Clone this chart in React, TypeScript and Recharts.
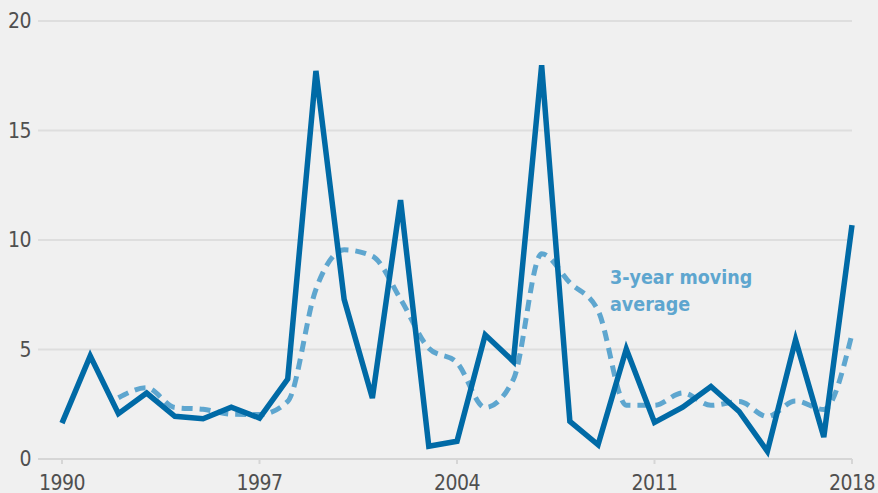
import { LineChart, Line, XAxis, YAxis, CartesianGrid } from "recharts";

// Yearly values.
const YEARS = [
  1990, 1991, 1992, 1993, 1994, 1995, 1996, 1997, 1998, 1999, 2000, 2001, 2002, 2003, 2004,
  2005, 2006, 2007, 2008, 2009, 2010, 2011, 2012, 2013, 2014, 2015, 2016, 2017, 2018,
];
const ANNUAL = [
  1.64, 4.71, 2.07, 3.01, 1.95, 1.84, 2.37, 1.87, 3.65, 17.72, 7.29, 2.78, 11.82, 0.58, 0.81,
  5.67, 4.45, 17.98, 1.72, 0.65, 5.02, 1.67, 2.37, 3.31, 2.17, 0.35, 5.44, 1.0, 10.68,
];
// 3-year moving average, first two years have no value
const MOVING_AVG: (number | null)[] = [
  null, null, 2.8, 3.25, 2.35, 2.27, 2.05, 2.03, 2.63, 7.75, 9.55, 9.26, 7.3, 5.06, 4.4,
  2.35, 3.64, 9.37, 8.05, 6.78, 2.46, 2.45, 3.02, 2.45, 2.62, 1.94, 2.65, 2.26, 5.71,
];
const X_TICKS = [1990, 1997, 2004, 2011, 2018];
const Y_TICKS = [0, 5, 10, 15, 20];

const rows = YEARS.map((year, i) => ({ year, annual: ANNUAL[i], avg: MOVING_AVG[i] }));

const DARK = "#006aa6";
const LIGHT = "#5ea6cf";
const FONT = "'DejaVu Sans Condensed', 'DejaVu Sans', sans-serif";
const TICK = { fontSize: 21, fill: "#4f4f4f", fontFamily: FONT, letterSpacing: -0.5 } as const;

export default function App() {
  return (
    <div style={{ position: "absolute", left: 0, top: 0, width: 878, height: 493, background: "#f0f0f0" }}>
      <LineChart width={878} height={493} data={rows} margin={{ top: 21, right: 26, bottom: 0, left: 0 }}>
        <CartesianGrid stroke="#dedede" strokeWidth={2} vertical={false} />
        <XAxis
          dataKey="year"
          type="number"
          domain={[1990, 2018]}
          ticks={X_TICKS}
          padding={{ left: 24, right: 0 }}
          height={34}
          tick={TICK}
          stroke="#d6d6d6"
          strokeWidth={2}
          tickSize={5}
          tickMargin={11}
        />
        <YAxis
          domain={[0, 20]}
          ticks={Y_TICKS}
          width={38}
          tick={TICK}
          axisLine={false}
          tickLine={false}
          tickMargin={1}
        />
        <Line
          dataKey="avg"
          type="monotone"
          stroke={LIGHT}
          strokeWidth={5}
          strokeDasharray="11 7"
          dot={false}
          connectNulls={false}
          isAnimationActive={false}
        />
        <Line
          dataKey="annual"
          type="linear"
          stroke={DARK}
          strokeWidth={5.5}
          dot={false}
          isAnimationActive={false}
        />
      </LineChart>
      <div
        style={{
          position: "absolute",
          left: 610,
          top: 264,
          color: LIGHT,
          fontFamily: FONT,
          fontWeight: "bold",
          fontSize: 19.5,
          lineHeight: "27px",
        }}
      >
        3-year moving
        <br />
        average
      </div>
    </div>
  );
}
